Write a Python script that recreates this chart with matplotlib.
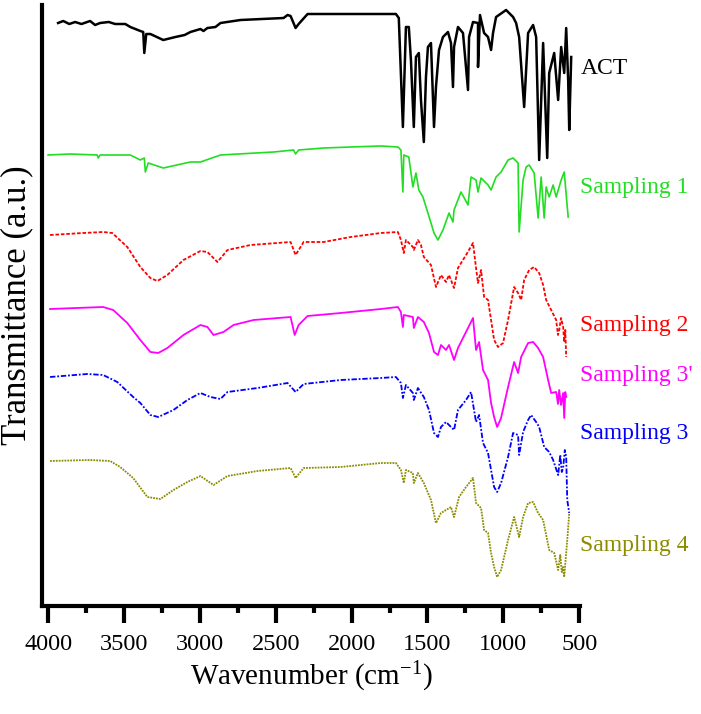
import numpy as np
import matplotlib
matplotlib.use('Agg')
from matplotlib import pyplot as plt

plt.rcParams['font.family'] = ['Liberation Serif', 'DejaVu Serif']
plt.rcParams['mathtext.default'] = 'regular'

# ---- spectra (wavenumber cm-1, transmittance a.u. with offsets) ----
act_wn = [3934, 3900, 3860, 3822, 3780, 3723, 3690, 3657, 3600, 3558, 3491, 3458, 3392, 3373, 3366,
          3353, 3326, 3241, 3161, 3100, 3062, 2996, 2976, 2950, 2897, 2864, 2732, 2448, 2422, 2402,
          2369, 2349, 2290, 1807, 1708, 1689, 1662, 1642, 1623, 1609, 1590, 1576, 1557, 1543, 1524,
          1510, 1497, 1477, 1457, 1444, 1424, 1398, 1365, 1345, 1332, 1325, 1299, 1266, 1233, 1226,
          1200, 1167, 1167, 1154, 1127, 1101, 1081, 1068, 1048, 982, 936, 916, 896, 863, 837, 804,
          784, 764, 738, 711, 698, 665, 639, 619, 599, 586, 573, 566, 553]
act_t = [577, 579, 576, 578, 576, 579, 575, 577, 578, 576, 576, 573, 569, 568, 547,
         566, 566, 560, 563, 565, 568, 571, 569, 572, 573, 577, 580, 582, 585, 584,
         572, 576, 586, 586, 586, 582, 473, 573, 573, 540, 473, 543, 547, 500, 458,
         523, 553, 557, 473, 513, 550, 563, 568, 557, 513, 553, 573, 567, 510, 563,
         578, 577, 533, 585, 567, 563, 550, 567, 583, 590, 583, 577, 563, 493, 567, 575,
         563, 440, 557, 442, 527, 547, 500, 553, 527, 572, 520, 470, 543]

s1_wn = [4000, 3855, 3676, 3670, 3657, 3458, 3392, 3366, 3359, 3340, 3241, 3062, 2996, 2864, 2514,
         2382, 2369, 2349, 2184, 2006, 1807, 1695, 1675, 1662, 1656, 1623, 1596, 1576, 1557, 1530,
         1497, 1457, 1431, 1398, 1358, 1332, 1325, 1279, 1233, 1213, 1180, 1167, 1147, 1101, 1081,
         1048, 1015, 969, 936, 903, 896, 870, 850, 830, 797, 771, 751, 731, 718, 698, 672, 652,
         619, 599, 573]
s1_t = [445, 446, 445, 442, 445, 445, 440, 442, 428, 437, 432, 438, 438, 445, 448,
        450, 446, 450, 452, 453, 454, 453, 450, 408, 445, 443, 413, 427, 410, 403,
        387, 367, 360, 370, 387, 378, 390, 408, 395, 423, 420, 408, 422, 415, 410,
        423, 428, 440, 442, 437, 368, 420, 433, 435, 427, 382, 423, 382, 413, 403, 415, 403,
        420, 428, 383]

s2_wn = [3987, 3769, 3637, 3577, 3478, 3392, 3326, 3280, 3214, 3108, 2996, 2950, 2884, 2818, 2666,
         2402, 2369, 2316, 2184, 2006, 1807, 1695, 1675, 1656, 1642, 1596, 1590, 1563, 1543, 1524,
         1477, 1444, 1411, 1378, 1358, 1325, 1299, 1246, 1200, 1180, 1167, 1147, 1127, 1101, 1081,
         1061, 1035, 1002, 969, 929, 903, 883, 863, 830, 797, 764, 738, 718, 685, 652, 640, 632,
         620, 606, 599, 592, 586]
s2_t = [365, 367, 368, 367, 353, 333, 322, 319, 325, 340, 349, 348, 338, 350, 355,
        358, 345, 358, 358, 363, 367, 368, 360, 347, 360, 353, 350, 360, 355, 343,
        335, 313, 325, 318, 325, 312, 332, 345, 357, 332, 317, 330, 303, 300, 280,
        260, 253, 257, 280, 313, 307, 300, 320, 330, 333, 327, 315, 300, 290, 280, 265, 270,
        282, 273, 258, 270, 243]

s3b_wn = [3987, 3637, 3571, 3478, 3392, 3326, 3274, 3214, 3108, 2996, 2950, 2910, 2844, 2778, 2646,
          2402, 2375, 2349, 2290, 2072, 1807, 1695, 1675, 1662, 1656, 1596, 1590, 1563, 1524, 1490,
          1457, 1431, 1411, 1378, 1358, 1325, 1299, 1233, 1200, 1180, 1160, 1134, 1101, 1081, 1061,
          1041, 1015, 969, 929, 903, 883, 837, 804, 771, 738, 705, 685, 652, 640, 632, 620, 606,
          599, 592, 586]
s3b_t = [291, 293, 290, 277, 260, 248, 247, 252, 265, 275, 273, 265, 268, 275, 280,
         283, 265, 275, 284, 287, 291, 293, 288, 273, 285, 283, 272, 283, 278, 267,
         248, 245, 255, 250, 255, 240, 252, 272, 282, 250, 258, 230, 220, 197, 183,
         173, 182, 213, 238, 227, 243, 257, 258, 252, 243, 220, 207, 208, 196, 210, 195, 207,
         182, 208, 203]

s3_wn = [3987, 3742, 3637, 3544, 3439, 3392, 3326, 3274, 3174, 3082, 2996, 2930, 2864, 2818, 2620,
         2422, 2369, 2316, 2072, 1807, 1708, 1675, 1662, 1642, 1596, 1590, 1563, 1524, 1490, 1457,
         1431, 1411, 1378, 1358, 1325, 1299, 1246, 1213, 1180, 1160, 1134, 1101, 1081, 1061, 1041,
         1015, 969, 936, 903, 896, 870, 837, 817, 784, 764, 731, 698, 672, 650, 639, 625, 615, 606,
         595, 586, 579, 566]
s3_t = [223, 226, 225, 218, 203, 197, 185, 183, 190, 200, 207, 203, 201, 208, 212,
        217, 208, 216, 220, 222, 223, 217, 202, 215, 207, 200, 212, 203, 190, 167,
        163, 173, 178, 175, 170, 190, 200, 208, 178, 185, 157, 147, 130, 113, 108,
        117, 143, 167, 165, 145, 168, 180, 185, 178, 173, 153, 148, 140, 130, 125, 145, 128, 132,
        150, 143, 100, 87]

s4_wn = [3987, 3723, 3591, 3525, 3439, 3346, 3260, 3174, 3082, 2996, 2910, 2818, 2620, 2402, 2369,
         2316, 2072, 1807, 1708, 1675, 1656, 1642, 1596, 1590, 1563, 1524, 1477, 1444, 1411, 1378,
         1345, 1325, 1292, 1246, 1200, 1180, 1147, 1127, 1101, 1081, 1061, 1041, 1015, 969, 929,
         896, 870, 837, 804, 771, 738, 698, 665, 639, 625, 615, 606, 599, 590, 579, 566]
s4_t = [139, 140, 139, 133, 122, 103, 101, 110, 118, 124, 115, 124, 129, 132, 122,
        132, 133, 137, 137, 130, 117, 130, 127, 117, 127, 117, 100, 77, 87, 90,
        93, 83, 103, 113, 122, 97, 92, 70, 67, 47, 33, 23, 30, 60, 83,
        63, 83, 97, 98, 87, 80, 50, 47, 30, 45, 28, 33, 23, 40, 60, 87]

names = ['ACT', 'Sampling 1', 'Sampling 2', "Sampling 3'", 'Sampling 3', 'Sampling 4']
label_y = [532, 412, 275, 225, 167, 55]
colors = ['black', '#22dd22', '#ff0000', '#ff00ff', '#0000ff', '#8c8c00']
styles = ['-', '-', (0, (2, 1)), '-', (0, (3, 1, 1, 1)), (0, (1, 0.6))]
widths = [1.8, 1.2, 1.3, 1.3, 1.3, 1.3]

xticks = [4000, 3500, 3000, 2500, 2000, 1500, 1000, 500]

series = [(act_wn, act_t), (s1_wn, s1_t), (s2_wn, s2_t), (s3b_wn, s3b_t), (s3_wn, s3_t), (s4_wn, s4_t)]

fig = plt.figure(figsize=(7.01, 7.14), dpi=100)
ax = fig.add_axes([42 / 701, 108 / 714, (580 - 42) / 701, (709 - 108) / 714])

for (wn, t), c, ls, lw in zip(series, colors, styles, widths):
    ax.plot(wn, t, color=c, linestyle=ls, linewidth=lw)

for name, yy, c in zip(names, label_y, colors):
    ax.text(492, yy, name, color=c, fontsize=17, ha='left', va='center', clip_on=False)

ax.set_xlim(4040, 495)
ax.set_ylim(-6, 595)
ax.set_xticks(xticks)
ax.set_xticks([3750, 3250, 2750, 2250, 1750, 1250, 750], minor=True)
ax.set_yticks([])
for s in ['top', 'right']:
    ax.spines[s].set_visible(False)
for s in ['left', 'bottom']:
    ax.spines[s].set_linewidth(3)
ax.tick_params(axis='x', which='major', direction='out', length=12, width=3, labelsize=17.5, pad=8)
ax.tick_params(axis='x', which='minor', direction='out', length=5, width=3)

ax.set_xlabel('Wavenumber (cm$^{-1}$)', fontsize=21, labelpad=4)
ax.set_ylabel('Transmittance (a.u.)', fontsize=25, labelpad=6)

plt.savefig('out.png', dpi=100)
